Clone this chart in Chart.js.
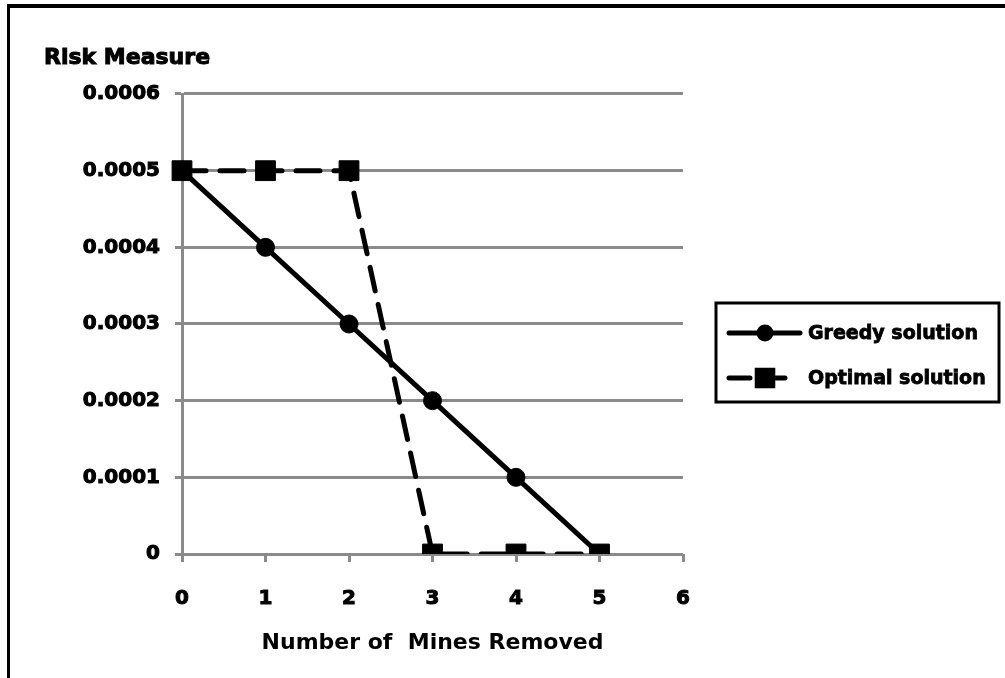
<!DOCTYPE html>
<html>
<head>
<meta charset="utf-8">
<script src="https://cdn.jsdelivr.net/npm/chart.js@4/dist/chart.umd.min.js"></script>
<style>
  body { margin: 0; background: #fff; }
  #wrap { position: relative; width: 1005px; height: 678px; }
  #wrap canvas { position: absolute; left: 0; top: 0; }
  .edge { position: absolute; background: #000; }
</style>
</head>
<body>
<div id="wrap">
  <canvas id="riskChart" width="1005" height="678"></canvas>
  <div class="edge" style="left:7px; top:4px; width:998px; height:4px;"></div>
  <div class="edge" style="left:7px; top:4px; width:3px; height:674px;"></div>
</div>
<script>
const minesRemoved = ['0', '1', '2', '3', '4', '5', '6'];
const greedyRisk = [0.0005, 0.0004, 0.0003, 0.0002, 0.0001, 0];
const optimalRisk = [0.0005, 0.0005, 0.0005, 0, 0, 0];
const yTickLabels = ['0', '0.0001', '0.0002', '0.0003', '0.0004', '0.0005', '0.0006'];
const seriesNames = ['Greedy solution', 'Optimal solution'];

const FONT = '"DejaVu Sans", Arial, sans-serif';
const GRID = '#8a8a8a';

// y axis title sits above the axis, and the legend has its own boxed frame
const extrasPlugin = {
    id: 'extras',
    afterDraw(chart) {
        const ctx = chart.ctx;
        ctx.save();
        ctx.fillStyle = '#000';
        ctx.strokeStyle = '#000';
        ctx.lineWidth = 1;
        ctx.font = 'bold 22px ' + FONT;
        ctx.textBaseline = 'alphabetic';
        ctx.textAlign = 'left';
        ctx.fillText('Risk Measure', 44, 64);
        ctx.strokeText('Risk Measure', 44, 64);

        // legend frame
        const box = { x: 716, y: 303, w: 283, h: 99 };
        ctx.lineWidth = 3;
        ctx.strokeRect(box.x, box.y, box.w, box.h);

        const markerSize = [6, 11];
        ctx.font = 'bold 19px ' + FONT;
        ctx.textBaseline = 'middle';
        chart.data.datasets.forEach((ds, i) => {
            const cy = i === 0 ? 333 : 378;
            ctx.strokeStyle = ds.borderColor;
            ctx.lineWidth = ds.borderWidth;
            ctx.lineCap = 'round';
            ctx.beginPath();
            if (i === 0) {
                ctx.moveTo(729, cy);
                ctx.lineTo(800, cy);
            } else {
                ctx.moveTo(729, cy);
                ctx.lineTo(750, cy);
                ctx.moveTo(776, cy);
                ctx.lineTo(785, cy);
            }
            ctx.stroke();
            Chart.helpers.drawPoint(ctx, {
                pointStyle: ds.pointStyle,
                radius: markerSize[i],
                borderWidth: 1
            }, 765, cy);
            ctx.fill();
            ctx.fillStyle = '#000';
            ctx.lineWidth = 0.8;
            ctx.fillText(ds.label, 808, cy + 1);
            ctx.strokeText(ds.label, 808, cy + 1);
        });
        ctx.restore();
    }
};

const ctx = document.getElementById('riskChart').getContext('2d');

new Chart(ctx, {
    type: 'line',
    data: {
        labels: minesRemoved,
        datasets: [
            {
                label: seriesNames[0],
                data: greedyRisk,
                borderColor: '#000',
                backgroundColor: '#000',
                borderWidth: 5,
                pointStyle: 'circle',
                pointRadius: 9,
                pointBorderWidth: 1,
                pointBackgroundColor: '#000',
                pointBorderColor: '#000',
                tension: 0,
                fill: false
            },
            {
                label: seriesNames[1],
                data: optimalRisk,
                borderColor: '#000',
                backgroundColor: '#000',
                borderWidth: 5,
                borderDash: [24, 14],
                borderCapStyle: 'round',
                pointStyle: 'rect',
                pointRadius: 14,
                pointBorderWidth: 1,
                pointBackgroundColor: '#000',
                pointBorderColor: '#000',
                tension: 0,
                fill: false
            }
        ]
    },
    options: {
        responsive: false,
        animation: false,
        layout: {
            padding: { left: 0, right: 322, top: 94, bottom: 0 }
        },
        scales: {
            x: {
                type: 'category',
                offset: false,
                afterFit: (scale) => { scale.height = 124; },
                grid: {
                    drawOnChartArea: false,
                    drawTicks: true,
                    tickLength: 8,
                    color: GRID,
                    lineWidth: 3
                },
                border: { display: false },
                ticks: {
                    color: '#000',
                    font: { family: FONT, size: 20, weight: 'bold' },
                    textStrokeColor: '#000',
                    textStrokeWidth: 1,
                    padding: 25,
                    maxRotation: 0,
                    autoSkip: false
                },
                title: {
                    display: true,
                    text: 'Number of  Mines Removed',
                    color: '#000',
                    font: { family: FONT, size: 22, weight: 'bold' },
                    padding: { top: 4, bottom: 22 }
                }
            },
            y: {
                min: 0,
                max: 0.0006,
                afterFit: (scale) => { scale.width = 182; },
                afterBuildTicks: (scale) => {
                    scale.ticks = yTickLabels.map((_, i) => ({ value: i * 0.0001 }));
                },
                grid: {
                    color: GRID,
                    lineWidth: 3,
                    drawTicks: true,
                    tickLength: 7
                },
                border: { display: true, color: GRID, width: 3 },
                ticks: {
                    color: '#000',
                    font: { family: FONT, size: 20, weight: 'bold' },
                    textStrokeColor: '#000',
                    textStrokeWidth: 1,
                    padding: 15,
                    callback: (value, index) => yTickLabels[index]
                }
            }
        },
        plugins: {
            legend: { display: false },
            tooltip: { enabled: false }
        }
    },
    plugins: [extrasPlugin]
});
</script>
</body>
</html>
